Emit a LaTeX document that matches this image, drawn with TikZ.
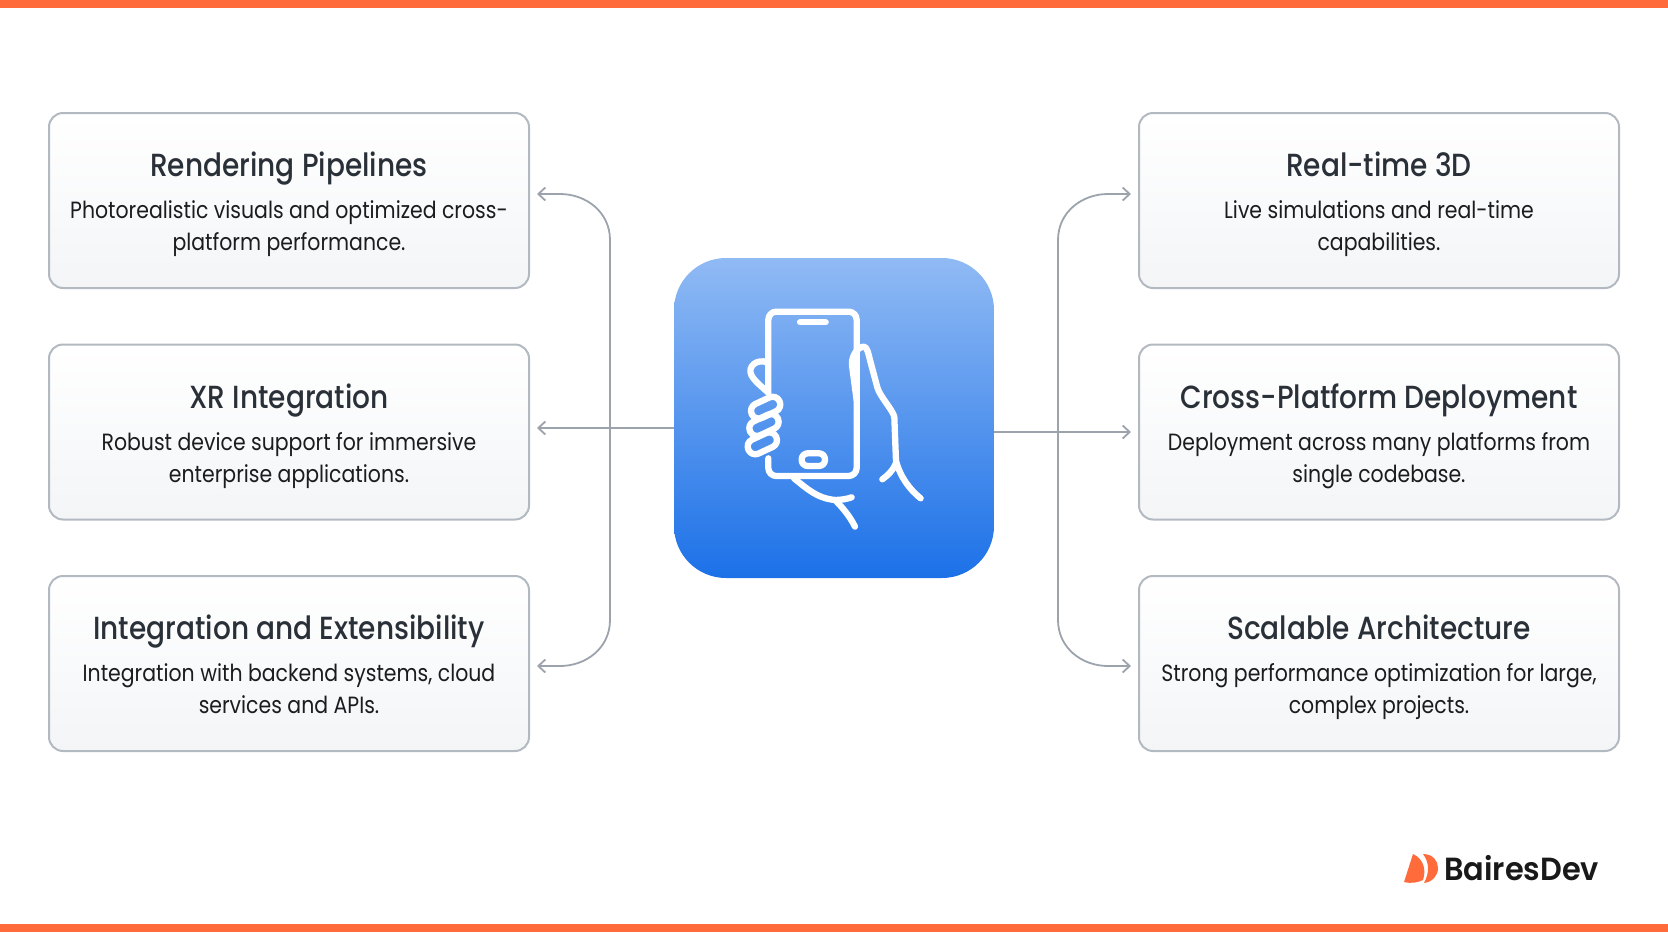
\documentclass[tikz,border=0pt]{standalone}
\usepackage{fontspec}
\usetikzlibrary{arrows.meta,calc}
\setmainfont{Poppins}
\newfontfamily\titlefont[FakeStretch=0.875,UprightFont=* Medium]{Poppins}
\newfontfamily\bodyfont[FakeStretch=0.87]{Poppins}
\newfontfamily\logofont[FakeStretch=0.95,UprightFont=* SemiBold]{Poppins}
\definecolor{orangebar}{HTML}{FF6B3B}
\definecolor{edgegray}{HTML}{9CA3AD}
\definecolor{boxedge}{HTML}{B3B9C1}
\definecolor{titleink}{HTML}{2A3038}
\definecolor{bodyink}{HTML}{1A1C20}
\definecolor{topblue}{HTML}{90BAF4}
\definecolor{botblue}{HTML}{1C71E8}
\definecolor{boxbot}{HTML}{F3F5F7}
\tikzset{
 card/.style={draw=boxedge,line width=2pt,rounded corners=14pt,top color=white,bottom color=boxbot,minimum width=480pt,minimum height=175pt,inner sep=0pt,outer sep=0pt},
 cardtitle/.style={font=\titlefont\fontsize{32}{36}\selectfont,text=titleink,inner sep=0pt,anchor=base},
 cardbody/.style={font=\bodyfont\fontsize{23.5}{32}\selectfont,text=bodyink,inner sep=0pt,anchor=base},
 link/.style={draw=edgegray,line width=1.8pt,-{Straight Barb[length=7pt,width=13pt,line width=1.8pt]}},
 ico/.style={draw=white,line width=6.3pt,line cap=round,line join=round},
}
\begin{document}
\begin{tikzpicture}[x=1pt,y=-1pt]
\useasboundingbox (0,0) rectangle (1668,932);
\fill[orangebar] (0,0) rectangle (1668,8);
\fill[orangebar] (0,924) rectangle (1668,932);
% cards
\node[card] (a) at (289,200.5) {};
\node[card] (b) at (289,432) {};
\node[card] (c) at (289,663.5) {};
\node[card] (d) at (1379,200.5) {};
\node[card] (e) at (1379,432) {};
\node[card] (f) at (1379,663.5) {};
\foreach \n/\x/\y/\t/\l/\m in {
 a/289/0/Rendering Pipelines/Photorealistic visuals and optimized cross-/platform performance.,
 b/289/231.5/XR Integration/Robust device support for immersive/enterprise applications.,
 c/289/463/Integration and Extensibility/Integration with backend systems{,} cloud/services and APIs.,
 d/1379/0/Real-time 3D/Live simulations and real-time/capabilities.,
 e/1379/231.5/Cross-Platform Deployment/Deployment across many platforms from/single codebase.,
 f/1379/463/Scalable Architecture/Strong performance optimization for large{,}/complex projects.}
{
 \node[cardtitle] (\n t) at (\x,{176.6+\y}) {\t};
 \node[cardbody] (\n l) at (\x,{218.8+\y}) {\l};
 \node[cardbody] (\n m) at (\x,{250.8+\y}) {\m};
}
% centre
\node[draw=none,rounded corners=52pt,top color=topblue,bottom color=botblue,minimum width=320pt,minimum height=320pt,inner sep=0pt,outer sep=0pt] (hub) at (834,418) {};
% connectors
\coordinate (tipa) at (537,194);
\coordinate (tipb) at (537,428);
\coordinate (tipc) at (537,666);
\coordinate (tipd) at (1131,194);
\coordinate (tipe) at (1131,432);
\coordinate (tipf) at (1131,666);
\coordinate (spL) at (610,428);
\coordinate (spR) at (1058,432);
\draw[link] (hub.west |- tipb) -- (tipb);
\draw[link] (hub.east |- tipe) -- (tipe);
\draw[link] (spL) -- (610,240) .. controls (610,212) and (586,194) .. (560,194) -- (tipa);
\draw[link] (spL) -- (610,620) .. controls (610,648) and (586,666) .. (560,666) -- (tipc);
\draw[link] (spR) -- (1058,240) .. controls (1058,212) and (1082,194) .. (1108,194) -- (tipd);
\draw[link] (spR) -- (1058,620) .. controls (1058,648) and (1082,666) .. (1108,666) -- (tipf);
% icon
\begin{scope}[xshift=660pt,yshift=-250pt,x=0.3333pt,y=-0.3333pt]
 \draw[ico,rounded corners=8pt] (325,425) -- (325,185) -- (590,185) -- (590,678) -- (325,678) -- (325,625);
 \draw[ico] (420,217) -- (497,217);
 \draw[ico,rounded corners=6pt] (425,610) rectangle (495,648);
 % thumb and hand, right
 \draw[ico] (590,450) -- (576,345) .. controls (574,315) and (595,290) .. (612,290) .. controls (622,292) and (625,310) .. (630,330) -- (652,412) .. controls (660,440) and (695,475) .. (703,500) -- (708,632) .. controls (720,680) and (750,720) .. (782,745);
 \draw[ico] (708,640) .. controls (700,660) and (685,675) .. (667,688);
 % palm, bottom
 \draw[ico] (402,685) .. controls (440,715) and (470,745) .. (525,750) .. controls (545,750) and (560,747) .. (575,742);
 \draw[ico] (525,750) .. controls (550,775) and (570,800) .. (585,830);
 % index finger
 \draw[ico] (322,337) .. controls (290,325) and (262,350) .. (274,375) .. controls (282,392) and (305,410) .. (325,428);
 % finger rings
 \foreach \cx/\cy in {317/473,312/525,307/580}{
  \draw[ico,rotate around={25:(\cx,\cy)},rounded corners=7.5pt] ({\cx-46},{\cy-23}) rectangle ({\cx+46},{\cy+23});
 }
\end{scope}
% logo
\fill[orangebar] (1413,854) -- (1404,882) .. controls (1412,884) and (1419,882) .. (1423,880) .. controls (1427,868) and (1422,858) .. (1413,854) -- cycle;
\fill[orangebar] (1423,854) .. controls (1433,854) and (1438,861) .. (1438,868) .. controls (1438,876) and (1432,882) .. (1424,883) .. controls (1430,872) and (1429,862) .. (1423,854) -- cycle;
\node[font=\logofont\fontsize{32}{36}\selectfont,text=black!90,inner sep=0pt,anchor=base west] (logo) at (1444,880) {BairesDev};
\end{tikzpicture}
\end{document}
